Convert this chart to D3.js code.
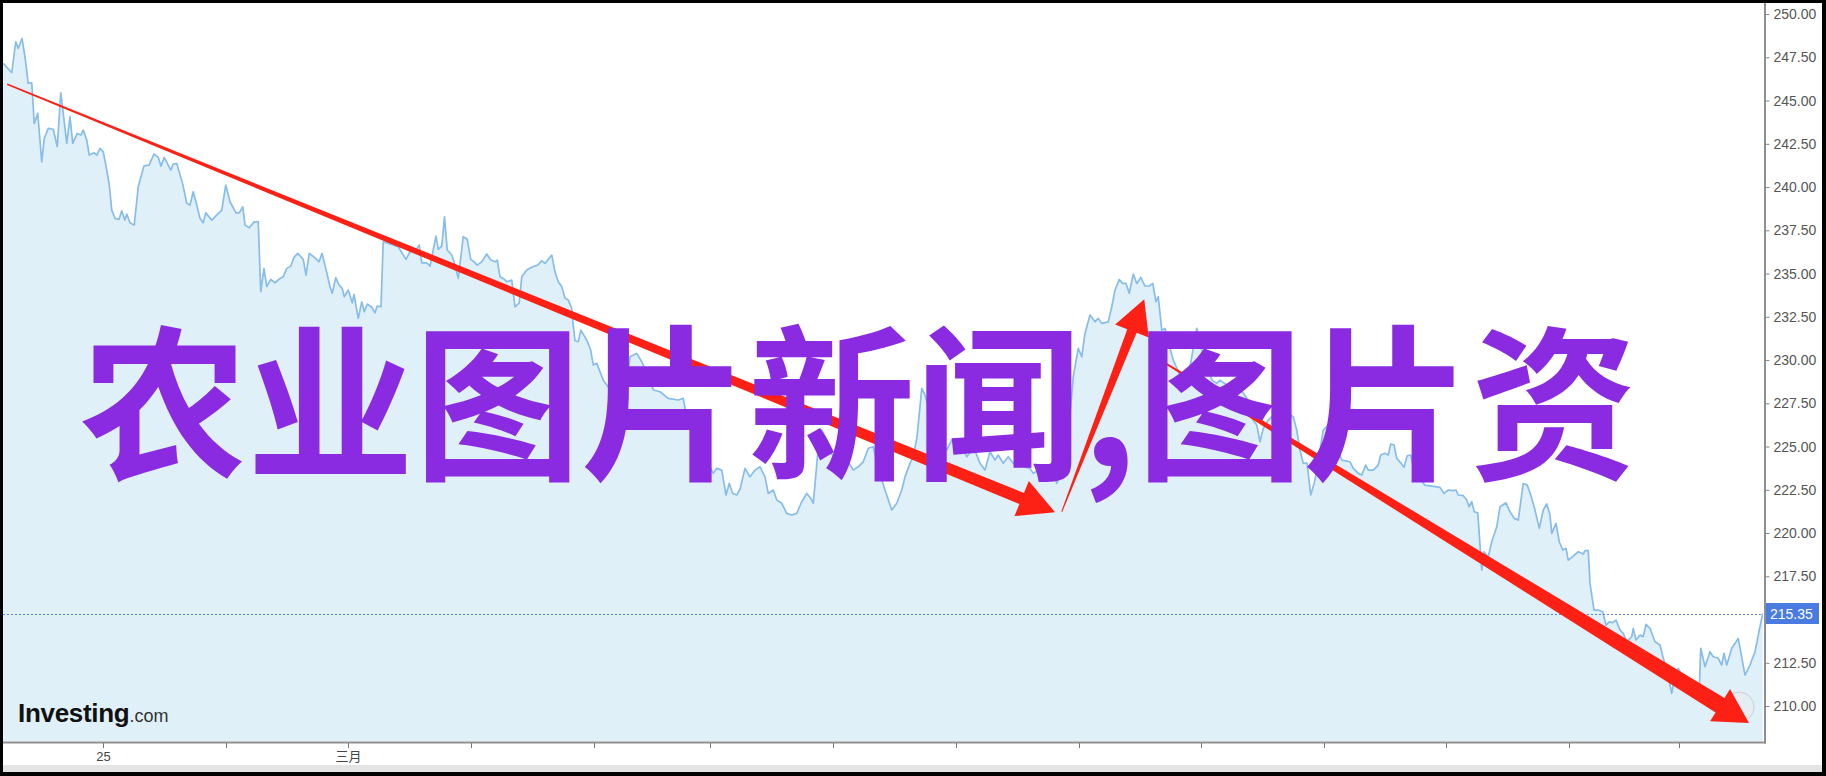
<!DOCTYPE html>
<html><head><meta charset="utf-8">
<script src="https://cdn.jsdelivr.net/npm/d3@7"></script>
<style>html,body{margin:0;padding:0;background:#000;}svg{display:block}</style>
</head><body><svg id="c" width="1826" height="776"></svg>
<script>
// ---- data ----
// minutes of trading since the "25" session open
const minutes = [
-399,-365,-349,-339,-324,-312,-299,-285,-275,-261,
-245,-235,-219,-199,-183,-169,-159,-145,-132,-121,
-103,-88,-79,-65,-55,-35,-25,-12,1,15,
25,35,48,64,75,87,95,108,125,141,
164,184,204,221,232,245,271,281,295,319,
335,348,361,375,388,401,411,435,455,475,
491,508,532,545,559,568,585,605,621,631,
644,655,671,688,708,721,735,751,764,779,
801,812,825,848,864,876,892,908,917,931,
944,957,965,981,997,1004,1021,1035,1045,1057,
1075,1088,1097,1112,1121,1181,1212,1228,1252,1265,
1275,1295,1308,1332,1341,1355,1366,
1377,1395,1408,1421,1441,1457,1471,1484,1497,1515,
1535,1551,1568,1577,1588,1601,1615,1635,1648,1665,
1675,1695,1719,1739,1755,1768,1795,1808,1821,1835,
1848,1861,1875,1881,1888,1901,1911,1935,1951,1961,
1975,2001,2044,2088,2108,2135,2155,2175,2201,2228,
2261,2301,2321,2332,2376,2421,2441,2455,2475,2492,
2505,2519,2535,2548,2568,2588,2608,2628,2648,2661,
2681,2695,2715,2735,2755,2775,2795,2815,2831,2841,
2859,2875,2895,2908,2940,2981,3001,3021,3041,3061,3081,
3100,3128,3155,3175,3195,3208,3228,3241,3256,3275,
3288,3328,3375,3395,3412,3428,3455,3475,3492,3508,
3528,3548,3568,3581,3601,3621,3641,3676,3708,3721,
3740,3755,3775,3795,3815,3852,3881,3901,3915,3928,
3948,3968,3981,3995,4021,4035,4048,4065,4079,4092,
4105,4121,4135,4151,4168,4185,4199,4212,4221,4235,
4248,4264,4281,4308,4328,4348,4375,4388,4412,4436,
4455,4468,4495,4521,4548,4575,4595,4615,4628,4641,
4661,4675,4716,4761,4775,4788,4801,4816,4831,4848,
4868,4881,4901,4924,
4955,4988,5001,5021,5035,5051,5061,5081,5101,5111,
5128,5141,5151,5164,5175,5191,5204,5217,5231,5244,
5288,5328,5348,5364,5381,5401,5412,5421,5441,5455,
5464,5475,5485,5499,5515,5524,5541,5555,5575,5588,
5612,5628,5645,5661,5681,5697,5711,5728,5745,5761,
5775,5788,5795,5812,5825,5839,5852,5861,5881,5901,
5921,5928,5941,5948,5964,5981,5999,6012,6025,6039,
6052,6068,6081,6095,6115,6121,6132,6148,6161,6172,
6188,6208,6228,6241,6256,6275,6288,6301,6328,6356,
6385,6391,6408,6428,6441,6461,6475,6484,6495,6515,
6541,6568,6588,6608,6625,6639];

const prices = [
247.15,246.61,248.40,248.02,248.60,247.53,245.99,246.03,243.68,244.26,
241.46,242.82,243.39,243.34,242.33,245.45,244.26,242.53,244.06,242.53,
243.10,243.01,243.29,242.72,241.85,241.98,241.85,242.24,242.04,240.98,
240.12,238.67,238.19,238.13,238.63,238.09,238.44,237.94,237.80,240.02,
241.23,241.27,241.91,241.72,241.21,241.72,240.98,241.33,241.37,240.17,
239.06,238.96,239.73,238.96,238.19,237.94,238.51,238.09,238.38,238.67,
240.12,239.15,238.51,238.51,238.86,237.80,237.65,237.99,237.99,233.95,
235.30,234.24,234.66,234.47,234.72,234.82,235.30,235.43,235.94,236.17,
235.82,234.91,236.17,235.91,235.68,236.17,235.24,234.24,233.86,234.76,
234.34,234.14,233.66,234.05,233.31,233.80,232.41,233.37,232.79,233.24,
233.05,232.73,233.12,233.08,236.84,236.55,235.82,236.26,236.36,236.65,
235.62,235.62,235.43,237.17,236.40,236.59,238.28,
236.36,236.07,235.49,234.72,237.13,236.98,235.82,235.68,235.49,235.68,
236.13,235.78,235.68,235.78,234.82,234.72,234.53,234.62,233.08,233.31,
234.82,235.20,235.39,235.49,235.74,235.59,236.07,235.10,234.53,234.24,
233.57,233.47,232.99,232.02,231.12,231.06,231.73,231.16,230.58,229.71,
229.81,228.84,227.98,227.51,230.19,230.39,229.90,229.32,228.27,228.17,
227.79,227.69,227.79,226.92,225.38,224.03,223.45,223.74,223.64,222.20,
222.87,222.29,222.20,222.53,223.74,223.25,223.64,223.83,223.25,222.29,
222.49,221.91,221.72,221.14,221.04,221.14,221.81,222.29,222.01,221.72,
224.61,225.95,225.38,224.61,224.34,224.12,223.64,223.83,224.12,224.90,224.99,
223.76,222.49,221.33,221.72,222.49,223.25,224.03,224.41,225.55,228.36,
227.98,225.95,224.80,225.38,225.03,225.28,224.41,224.80,224.62,224.03,
223.64,224.70,224.22,224.51,224.03,224.41,224.03,223.87,223.74,223.45,
223.64,223.87,223.93,223.83,222.87,224.22,229.03,230.68,230.19,231.54,
232.60,232.21,232.41,232.12,232.21,233.08,234.05,234.66,234.43,234.43,
233.86,234.97,234.43,234.78,234.28,234.28,234.43,233.37,233.66,231.73,
231.83,230.87,230.00,229.13,228.84,229.61,231.83,230.97,229.71,228.84,
228.65,228.84,228.56,228.65,228.36,227.79,226.63,226.24,225.28,226.05,
226.53,226.72,227.11,226.72,225.95,224.80,224.03,224.05,222.20,223.06,
224.80,225.95,226.24,225.38,
224.22,224.12,223.74,223.45,223.35,223.93,223.64,223.64,223.93,224.51,
224.61,224.51,225.14,225.09,224.32,224.06,223.80,224.47,224.51,223.64,
222.77,222.68,222.64,222.29,222.49,222.45,222.49,222.20,222.16,221.91,
221.52,221.81,221.23,221.17,217.86,218.92,218.63,219.50,220.36,221.52,
221.75,221.23,220.85,220.75,222.87,222.77,222.20,221.33,220.27,221.33,
221.68,221.04,219.98,220.56,219.50,219.02,219.12,218.44,218.67,218.92,
218.79,218.98,218.98,217.09,215.55,215.55,215.45,214.68,214.87,214.82,
214.97,214.39,214.20,213.72,214.01,214.49,213.82,214.10,214.01,214.72,
214.49,213.72,213.53,212.76,212.08,210.73,211.79,212.18,211.50,210.92,
210.92,213.34,212.27,213.14,212.85,212.76,212.37,213.05,212.37,213.34,
213.91,211.79,212.37,213.14,214.39,215.35];

const yTickValues = [210,212.5,215,217.5,220,222.5,225,227.5,230,232.5,235,237.5,240,242.5,245,247.5,250];
const xTickMinutes = [0,492,980,1472,1964,2428,2920,3412,3904,4392,4884,5372,5864,6304];
const xTickLabels = ["25","","三月","","","","","","","","","","",""];
const lastPrice = 215.35;
const headline = "农业图片新闻,图片资";
// annotation arrows, [minute, price] for tail and tip
const arrowTails = [[-383,245.94],[3835,221.23],[4248,229.83]];
const arrowTips  = [[3808,221.21],[4165,233.51],[6584,209.02]];
const endMarker = [6544,209.94];

// ---- layout ----
const W=1826,H=776;
const plot={l:3,r:1763,t:3,b:741};
const svg=d3.select("#c");
const x=d3.scaleLinear().domain([-400,6640]).range([plot.l,plot.r]);
const y=d3.scaleLinear().domain([207.98,250.64]).range([plot.b,plot.t]);
const data=d3.zip(minutes,prices).map(([t,p])=>({t,p}));

// frame
svg.append("rect").attr("width",W).attr("height",H).attr("fill","#000");
svg.append("rect").attr("x",3).attr("y",3).attr("width",1819).attr("height",769).attr("fill","#fff");
svg.append("rect").attr("x",3).attr("y",765).attr("width",1819).attr("height",7).attr("fill","#e4e4e4");

svg.append("defs").append("clipPath").attr("id","pc").append("rect")
  .attr("x",plot.l).attr("y",plot.t).attr("width",plot.r-plot.l).attr("height",plot.b-plot.t);

const g=svg.append("g").attr("clip-path","url(#pc)");
g.append("path").datum(data)
  .attr("d",d3.area().x(d=>x(d.t)).y0(y(y.domain()[0])).y1(d=>y(d.p)))
  .attr("fill","#e0f0f9");
g.append("path").datum(data)
  .attr("d",d3.line().x(d=>x(d.t)).y(d=>y(d.p)))
  .attr("fill","none").attr("stroke","#88bdea").attr("stroke-width",1.7).attr("stroke-linejoin","round");
// last price guide
g.append("line").attr("x1",plot.l).attr("x2",plot.r+2)
  .attr("y1",Math.round(y(lastPrice))+0.5).attr("y2",Math.round(y(lastPrice))+0.5)
  .attr("stroke","#5a86e6").attr("stroke-width",1).attr("stroke-dasharray","2,2");

// end marker circle
g.append("circle").attr("cx",x(endMarker[0])).attr("cy",y(endMarker[1])).attr("r",15)
  .attr("fill","rgba(235,235,235,0.35)").attr("stroke","#cfcfcf").attr("stroke-width",1);

// arrows
const arrowStyle=[{w0:1.5,w1:12,hl:36,hh:19},{w0:1,w1:10,hl:34,hh:18},{w0:2,w1:17,hl:34,hh:19}];
arrowTails.forEach((tl,i)=>{
  const tp=arrowTips[i], s=arrowStyle[i];
  const T=[x(tl[0]),y(tl[1])], P=[x(tp[0]),y(tp[1])];
  const dx=P[0]-T[0], dy=P[1]-T[1], L=Math.hypot(dx,dy);
  const u=[dx/L,dy/L], n=[-u[1],u[0]];
  const B=[P[0]-u[0]*s.hl, P[1]-u[1]*s.hl];
  const pt=(o,k)=>[o[0]+n[0]*k,o[1]+n[1]*k];
  const pts=[pt(T,s.w0/2),pt(B,s.w1/2),pt(B,s.hh),P,pt(B,-s.hh),pt(B,-s.w1/2),pt(T,-s.w0/2)];
  svg.append("polygon").attr("points",pts.map(p=>p.join(",")).join(" ")).attr("fill","#fd2015");
});

// headline text
svg.append("text").attr("x",80).attr("y",467)
  .attr("font-family","'Noto Sans CJK SC'").attr("font-weight",700).attr("font-size",167)
  .attr("fill","#8a2be2").text(headline);

// logo
const logo=svg.append("text").attr("x",18).attr("y",722).attr("font-family","'Liberation Sans',Arial,sans-serif");
logo.append("tspan").attr("font-weight",700).attr("font-size",26).attr("fill","#111").attr("letter-spacing",-0.3).text("Investing");
logo.append("tspan").attr("font-size",18).attr("fill","#333").text(".com");

// axes
svg.append("line").attr("x1",plot.l).attr("x2",1766).attr("y1",742.5).attr("y2",742.5).attr("stroke","#8e8e8e").attr("stroke-width",2);
svg.append("line").attr("x1",1765).attr("x2",1765).attr("y1",plot.t).attr("y2",743.5).attr("stroke","#8e8e8e").attr("stroke-width",2);

const yAxis=d3.axisRight(y).tickValues(yTickValues).tickFormat(d=>d===215?"":d3.format(".2f")(d)).tickSize(4).tickPadding(4);
const ya=svg.append("g").attr("transform","translate(1765.5,0)").call(yAxis);
ya.select(".domain").remove();
ya.selectAll("line").attr("stroke","#888");
ya.selectAll("text").attr("font-family","'Liberation Sans',Arial,sans-serif").attr("font-size",14).attr("fill","#555");

const xAxis=d3.axisBottom(x).tickValues(xTickMinutes).tickFormat((d,i)=>xTickLabels[i]).tickSize(5).tickPadding(4);
const xa=svg.append("g").attr("transform","translate(0,743)").call(xAxis);
xa.select(".domain").remove();
xa.selectAll("line").attr("stroke","#777");
xa.selectAll("text").attr("font-family","'Liberation Sans','Noto Sans CJK SC',sans-serif").attr("font-size",13).attr("fill","#444");

// last price label
const ly=y(lastPrice);
svg.append("rect").attr("x",1766).attr("y",ly-10.5).attr("width",53).attr("height",21).attr("fill","#4a7be0");
svg.append("text").attr("x",1770).attr("y",ly+5).attr("font-family","'Liberation Sans',Arial,sans-serif")
  .attr("font-size",14).attr("fill","#fff").text(d3.format(".2f")(lastPrice));
</script></body></html>
